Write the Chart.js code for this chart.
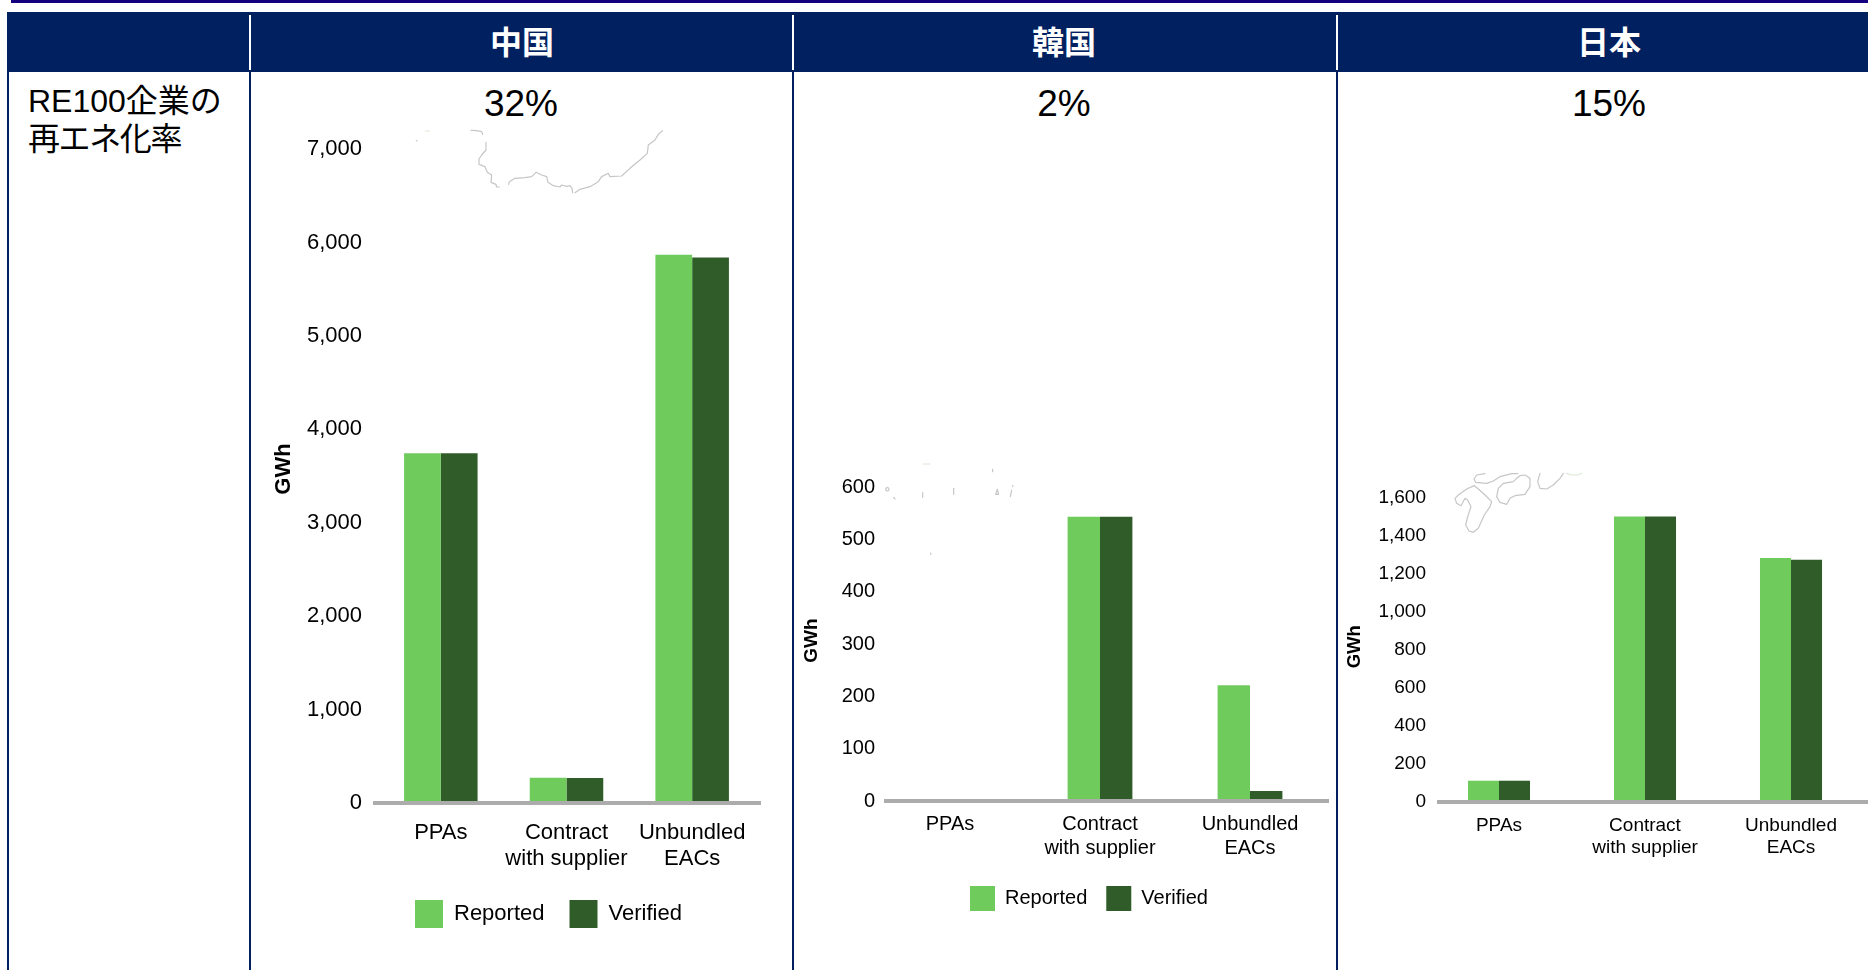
<!DOCTYPE html>
<html lang="ja">
<head>
<meta charset="utf-8">
<title>RE100</title>
<script src="https://cdn.jsdelivr.net/npm/chart.js@4/dist/chart.umd.min.js"></script>
<style>
  html, body { margin: 0; padding: 0; background: #fff; overflow: hidden; }
  body { width: 1868px; height: 970px; position: relative; font-family: "Liberation Sans", "Noto Sans CJK JP", sans-serif; color: #000; }
  .abs { position: absolute; }
  .rule { background: #002060; }
  .head { background: #002060; left: 7px; top: 12px; width: 1861px; height: 60px; }
  .sep { background: #fff; top: 15px; width: 2px; height: 55px; }
  .country { top: 17px; height: 46px; line-height: 46px; width: 300px; text-align: center; color: #fff; font-size: 32px; font-weight: bold; font-family: "Noto Sans CJK JP", sans-serif; }
  .rate { top: 82px; height: 44px; line-height: 44px; width: 200px; text-align: center; font-size: 37px; }
  .rowhead { left: 28px; top: 82px; font-size: 32px; line-height: 38px; white-space: nowrap; }
  .tight { letter-spacing: -1.4px; }
  canvas { position: absolute; }
  svg.faint { position: absolute; left: 0; top: 0; width: 1868px; height: 970px; }
  svg.faint * { fill: none; stroke: #c6c6c6; stroke-width: 1.2; vector-effect: non-scaling-stroke; stroke-linejoin: round; stroke-linecap: round; }
  svg.faint .tint { stroke: #dbe8d4; }
</style>
</head>
<body>
<div class="abs" style="left:11px;top:0;width:1857px;height:3px;background:#14007e"></div>
<div class="abs head"></div>
<div class="abs sep" style="left:249px"></div>
<div class="abs sep" style="left:792px"></div>
<div class="abs sep" style="left:1336px"></div>
<div class="abs rule" style="left:7px;top:72px;width:2px;height:898px"></div>
<div class="abs rule" style="left:249px;top:72px;width:2px;height:898px"></div>
<div class="abs rule" style="left:792px;top:72px;width:2px;height:898px"></div>
<div class="abs rule" style="left:1336px;top:72px;width:2px;height:898px"></div>
<div class="abs country" style="left:372px">中国</div>
<div class="abs country" style="left:914px">韓国</div>
<div class="abs country" style="left:1459px">日本</div>
<div class="abs rowhead">RE100企業の<br><span class="tight">再エネ化率</span></div>
<div class="abs rate" style="left:421px">32%</div>
<div class="abs rate" style="left:964px">2%</div>
<div class="abs rate" style="left:1509px">15%</div>

<!-- faint map outlines sitting behind the plots -->
<svg class="faint" viewBox="0 0 1868 970">
  <g transform="translate(410 125) scale(0.3333)">
    <polyline points="183,16 200,17 215,20 218,28"/>
    <polyline points="228,52 228,75 215,90 207,102 207,118 225,125 232,142 245,150 243,172 258,178 260,186 268,186"/>
    <polyline points="296,178 298,170 315,160 345,158 365,155 378,142 395,150 410,155 414,172 430,182 450,186 455,180 470,184 480,182 486,190 488,203"/>
    <polyline points="495,203 510,193 540,185 565,170 575,155 595,145 600,155 635,153 660,130 690,105 712,85 715,60 735,45 745,28 758,17"/>
    <polyline class="tint" points="46,18 58,18"/>
    <polyline points="19,47 21,47"/>
  </g>
  <g transform="translate(880 455) scale(0.3333)">
    <circle cx="22" cy="103" r="5"/>
    <polyline points="41,127 45,132"/>
    <polyline points="128,113 128,127"/>
    <polyline points="221,100 221,118"/>
    <polyline points="338,42 338,50"/>
    <polyline points="352,103 347,118 356,118 352,103"/>
    <polyline points="395,105 391,125"/>
    <polyline points="398,91 398,94"/>
    <polyline points="152,294 152,298"/>
    <polyline class="tint" points="130,27 150,27"/>
  </g>
  <g transform="translate(1445 465) scale(0.3333)">
    <polyline points="120,26 95,30 87,42 92,52 125,55 145,48 165,35 200,26 218,26"/>
    <polyline points="88,62 65,72 40,90 30,100 35,115 48,122 60,100 68,105 78,125 68,155 62,180 72,198 85,202 100,190 118,150 135,125 140,110 120,90 100,72 88,62"/>
    <polyline points="215,40 205,50 175,55 160,70 155,95 165,112 185,118 195,100 210,92 240,88 255,65 255,40 240,30 225,32 215,40"/>
    <polyline points="285,25 278,50 285,70 305,72 325,60 345,40 355,25"/>
    <polyline class="tint" points="365,25 380,30 400,30 410,25"/>
  </g>
</svg>

<canvas id="china" width="540" height="816" style="left:252px;top:120px"></canvas>
<canvas id="korea" width="540" height="805" style="left:795px;top:120px"></canvas>
<canvas id="japan" width="529" height="752" style="left:1339px;top:120px"></canvas>
<script>
const categories = ["PPAs", ["Contract", "with supplier"], ["Unbundled", "EACs"]];
const seriesNames = ["Reported", "Verified"];
const chinaReported = [3745, 270, 5870];
const chinaVerified = [3745, 268, 5840];
const koreaReported = [0, 543, 221];
const koreaVerified = [0, 543, 19];
const japanReported = [112, 1502, 1284];
const japanVerified = [112, 1502, 1275];
const colorReported = "#6ECB5C";
const colorVerified = "#305C29";
const axisGray = "#ACACAC";
const fontFamily = '"Liberation Sans", Arial, sans-serif';

// Thick zero line (runs a little past the plot), rotated unit label, pinned legend.
const panelDecor = {
  id: "panelDecor",
  afterLayout(chart, args, o) {
    const lg = chart.legend;
    if (lg && o.legendX !== undefined) {
      const pad = lg.options.labels.padding;
      const w = lg.right - lg.left;
      lg.left = o.legendX - pad;
      lg.right = lg.left + w;
      lg.top = o.legendY - pad;
    }
  },
  afterDatasetsDraw(chart, args, o) {
    const { ctx, chartArea } = chart;
    const y0 = chart.scales.y.getPixelForValue(0);
    ctx.save();
    ctx.fillStyle = axisGray;
    ctx.fillRect(chartArea.left + o.lineFrom, y0 - 2, chartArea.width - o.lineFrom + o.lineTo, 4);
    ctx.translate(o.unitX, o.unitY);
    ctx.rotate(-Math.PI / 2);
    ctx.fillStyle = "#000";
    ctx.font = "bold " + o.unitSize + "px " + fontFamily;
    ctx.textAlign = "center";
    ctx.textBaseline = "middle";
    ctx.fillText("GWh", 0, 0);
    ctx.restore();
  }
};

function panel(id, reported, verified, p) {
  new Chart(document.getElementById(id), {
    type: "bar",
    plugins: [panelDecor],
    data: {
      labels: categories,
      datasets: [
        { label: seriesNames[0], data: reported, backgroundColor: colorReported },
        { label: seriesNames[1], data: verified, backgroundColor: colorVerified }
      ]
    },
    options: {
      responsive: false,
      animation: false,
      events: [],
      categoryPercentage: p.groupShare,
      barPercentage: 1,
      layout: { padding: { top: p.top, right: p.right, left: 0, bottom: 0 } },
      scales: {
        x: {
          grid: { display: false, drawTicks: false },
          border: { display: false },
          afterFit(s) { s.height = p.xHeight; },
          ticks: {
            color: "#000", padding: p.xPad, autoSkip: false, maxRotation: 0, minRotation: 0,
            font: { family: fontFamily, size: p.font, lineHeight: p.lineHeight }
          }
        },
        y: {
          min: 0, max: p.max,
          grid: { display: false, drawTicks: false },
          border: { display: false },
          afterFit(s) { s.width = p.yWidth; },
          ticks: {
            stepSize: p.step, color: "#000", padding: p.yPad,
            font: { family: fontFamily, size: p.tickFont },
            callback: v => v.toLocaleString("en-US")
          }
        }
      },
      plugins: {
        tooltip: { enabled: false },
        legend: p.legendX === undefined ? { display: false } : {
          display: true, position: "bottom", align: "start",
          labels: {
            color: "#000", boxWidth: p.box, boxHeight: p.box, padding: p.legendGap,
            font: { family: fontFamily, size: p.font }
          }
        },
        panelDecor: {
          lineFrom: p.lineFrom, lineTo: p.lineTo,
          unitX: p.unitX, unitY: p.unitY, unitSize: p.unitSize,
          legendX: p.legendX, legendY: p.legendY
        }
      }
    }
  });
}

panel("china", chinaReported, chinaVerified, {
  max: 7000, step: 1000, top: 28, right: 37, yWidth: 126, xHeight: 70, groupShare: 0.585,
  font: 22, tickFont: 22, lineHeight: 1.17, xPad: 17, yPad: 16, lineFrom: -5, lineTo: 6,
  unitX: 32, unitY: 349, unitSize: 22, box: 28, legendGap: 25, legendX: 163, legendY: 780
});
panel("korea", koreaReported, koreaVerified, {
  max: 600, step: 100, top: 367, right: 10, yWidth: 80, xHeight: 70, groupShare: 0.432,
  font: 20, tickFont: 20, lineHeight: 1.2, xPad: 11, yPad: 0, lineFrom: 9, lineTo: 4,
  unitX: 16.5, unitY: 520.5, unitSize: 19, box: 25, legendGap: 19, legendX: 175, legendY: 766
});
panel("japan", japanReported, japanVerified, {
  max: 1600, step: 200, top: 378, right: 4, yWidth: 87, xHeight: 70, groupShare: 0.425,
  font: 19, tickFont: 19, lineHeight: 1.2, xPad: 12, yPad: 0, lineFrom: 11, lineTo: 4,
  unitX: 16, unitY: 526.7, unitSize: 18.5
});
</script>
</body>
</html>
